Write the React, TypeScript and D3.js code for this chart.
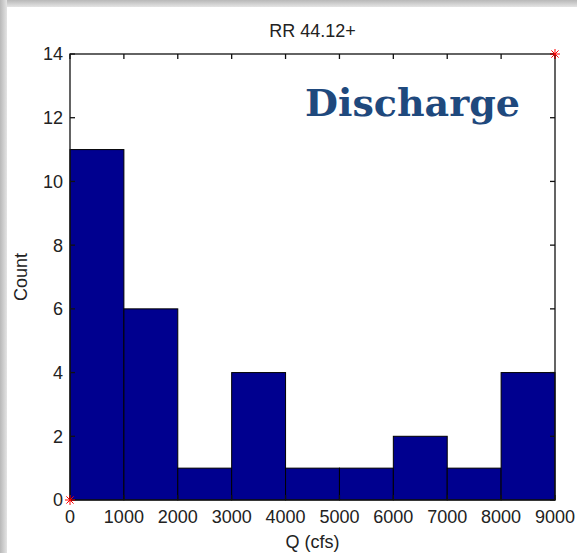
import React from "react";
import * as d3 from "d3";

const binEdges = [0, 1000, 2000, 3000, 4000, 5000, 6000, 7000, 8000, 9000];
const counts = [11, 6, 1, 4, 1, 1, 2, 1, 4];
const xTicks = [0, 1000, 2000, 3000, 4000, 5000, 6000, 7000, 8000, 9000];
const yTicks = [0, 2, 4, 6, 8, 10, 12, 14];
const markerPoints: [number, number][] = [[0, 0], [9000, 14]];
const title = "RR 44.12+";
const xLabel = "Q (cfs)";
const yLabel = "Count";
const overlayText = "Discharge";

const W = 577;
const H = 553;
const left = 70, right = 555, top = 54, bottom = 500;

export default function App() {
  const x = d3.scaleLinear().domain([0, 9000]).range([left, right]);
  const y = d3.scaleLinear().domain([0, 14]).range([bottom, top]);
  const font = "'Liberation Sans', Arial, sans-serif";
  const tick = 5;
  const bars = counts.map((c, i) => ({ x0: binEdges[i], x1: binEdges[i + 1], c }));
  return (
    <svg width={W} height={H} style={{ position: "absolute", left: 0, top: 0 }}>
      <defs>
        <linearGradient id="gl" x1="0" x2="1" y1="0" y2="0">
          <stop offset="0" stopColor="#b8b8b8" />
          <stop offset="1" stopColor="#e4e4e4" />
        </linearGradient>
        <linearGradient id="gt" x1="0" x2="0" y1="0" y2="1">
          <stop offset="0" stopColor="#b8b8b8" />
          <stop offset="1" stopColor="#e4e4e4" />
        </linearGradient>
      </defs>
      <rect x={0} y={0} width={W} height={H} fill="#ffffff" />
      <rect x={0} y={0} width={W} height={7} fill="url(#gt)" />
      <rect x={0} y={0} width={7} height={H} fill="url(#gl)" />
      {bars.map((b, i) => (
        <rect
          key={i}
          x={x(b.x0)}
          y={y(b.c)}
          width={x(b.x1) - x(b.x0)}
          height={y(0) - y(b.c)}
          fill="#00008f"
          stroke="#000"
          strokeWidth={1}
        />
      ))}
      <rect x={left} y={top} width={right - left} height={bottom - top} fill="none" stroke="#111" strokeWidth={1.3} />
      {xTicks.map((t) => (
        <g key={"x" + t}>
          <line x1={x(t)} x2={x(t)} y1={bottom} y2={bottom - tick} stroke="#111" strokeWidth={1.3} />
          <line x1={x(t)} x2={x(t)} y1={top} y2={top + tick} stroke="#111" strokeWidth={1.3} />
          <text x={x(t)} y={523} textAnchor="middle" fontFamily={font} fontSize={18} fill="#222">{t}</text>
        </g>
      ))}
      {yTicks.map((t) => (
        <g key={"y" + t}>
          <line x1={left} x2={left + tick} y1={y(t)} y2={y(t)} stroke="#111" strokeWidth={1.3} />
          <line x1={right} x2={right - tick} y1={y(t)} y2={y(t)} stroke="#111" strokeWidth={1.3} />
          <text x={63} y={y(t)} dy="0.36em" textAnchor="end" fontFamily={font} fontSize={18} fill="#222">{t}</text>
        </g>
      ))}
      {markerPoints.map(([px, py], i) => {
        const cx = x(px), cy = y(py), r = 5, d = 3.6;
        return (
          <g key={"m" + i} stroke="#ff0000" strokeWidth={1}>
            <line x1={cx - r} x2={cx + r} y1={cy} y2={cy} />
            <line x1={cx} x2={cx} y1={cy - r} y2={cy + r} />
            <line x1={cx - d} x2={cx + d} y1={cy - d} y2={cy + d} />
            <line x1={cx - d} x2={cx + d} y1={cy + d} y2={cy - d} />
          </g>
        );
      })}
      <text x={(left + right) / 2} y={37} textAnchor="middle" fontFamily={font} fontSize={18} fill="#222">{title}</text>
      <text x={(left + right) / 2} y={548} textAnchor="middle" fontFamily={font} fontSize={18} fill="#222">{xLabel}</text>
      <text transform={`translate(27, ${(top + bottom) / 2}) rotate(-90)`} textAnchor="middle" fontFamily={font} fontSize={18} fill="#222">{yLabel}</text>
      <text x={305} y={116} fontFamily="'DejaVu Serif', serif" fontWeight="bold" fontSize={38} fill="#1f497d">{overlayText}</text>
    </svg>
  );
}
